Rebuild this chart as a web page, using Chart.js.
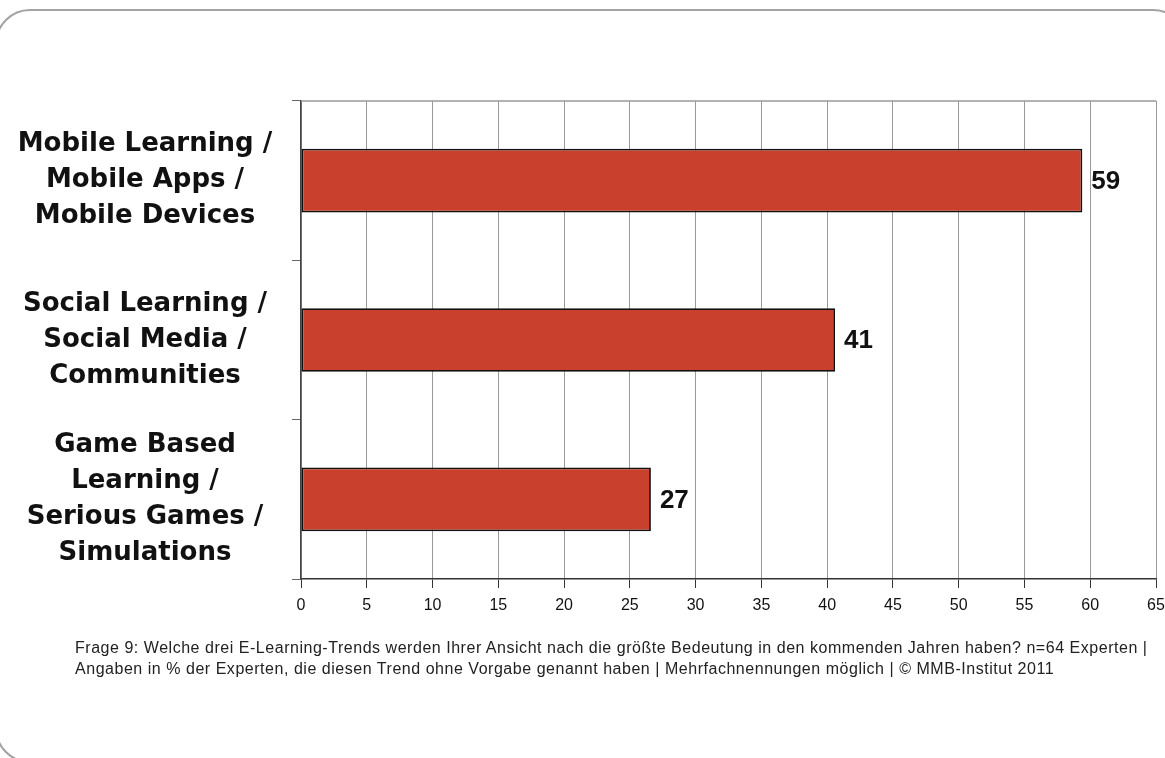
<!DOCTYPE html>
<html>
<head>
<meta charset="utf-8">
<script src="https://cdn.jsdelivr.net/npm/chart.js@4"></script>
<style>
  html, body { margin: 0; padding: 0; background: #fff; }
  #wrap { position: relative; width: 1165px; height: 758px; overflow: hidden; }
  #frame { position: absolute; left: -5px; top: 9px; width: 1193px; height: 754px;
           border: 2px solid #a3a3a3; border-radius: 35px; box-sizing: border-box; }
  #c { position: absolute; left: 0; top: 0; }
  #note { position: absolute; left: 75px; top: 637px; font-family: "Liberation Sans", Arial, sans-serif;
          font-size: 16px; letter-spacing: 0.53px; line-height: 21px; color: #222; white-space: nowrap; }
</style>
</head>
<body>
<div id="wrap">
  <div id="frame"></div>
  <canvas id="c" width="1165" height="758"></canvas>
  <div id="note">Frage 9: Welche drei E-Learning-Trends werden Ihrer Ansicht nach die größte Bedeutung in den kommenden Jahren haben? n=64 Experten |<br>Angaben in % der Experten, die diesen Trend ohne Vorgabe genannt haben | Mehrfachnennungen möglich | © MMB-Institut 2011</div>
</div>
<script>
const categories = [
  ["Mobile Learning /", "Mobile Apps /", "Mobile Devices"],
  ["Social Learning /", "Social Media /", "Communities"],
  ["Game Based", "Learning /", "Serious Games /", "Simulations"]
];
const values = [59.4, 40.6, 26.6];
const valueLabels = ["59", "41", "27"];
const xTicks = [0, 5, 10, 15, 20, 25, 30, 35, 40, 45, 50, 55, 60, 65];

const labelFontSize = 26;
const labelFamily = "'DejaVu Sans', sans-serif";
const mctx = document.createElement('canvas').getContext('2d');
mctx.font = `bold ${labelFontSize}px ${labelFamily}`;
let widest = 0;
categories.forEach(c => c.forEach(l => { widest = Math.max(widest, mctx.measureText(l).width); }));
const axisLeft = 301, tickLen = 9, labelCenter = 145;
const yPad = axisLeft - tickLen - labelCenter - widest / 2;

const valueLabelPlugin = {
  id: 'valueLabels',
  afterDatasetsDraw(chart) {
    const ctx = chart.ctx;
    const meta = chart.getDatasetMeta(0);
    ctx.save();
    ctx.font = "bold 26px 'Liberation Sans', Arial, sans-serif";
    ctx.fillStyle = '#111';
    ctx.textAlign = 'left';
    ctx.textBaseline = 'middle';
    meta.data.forEach((el, i) => {
      ctx.fillText(valueLabels[i], el.x + 9, el.y + 1);
    });
    ctx.restore();
  }
};
const topLinePlugin = {
  id: 'topLine',
  afterDraw(chart) {
    const {ctx, chartArea} = chart;
    ctx.save();
    ctx.strokeStyle = '#999';
    ctx.lineWidth = 1.5;
    ctx.beginPath();
    ctx.moveTo(chartArea.left, chartArea.top);
    ctx.lineTo(chartArea.right, chartArea.top);
    ctx.stroke();
    ctx.restore();
  }
};

new Chart(document.getElementById('c'), {
  type: 'bar',
  data: {
    labels: categories,
    datasets: [{
      data: values,
      backgroundColor: '#C9412C',
      borderColor: '#111',
      borderWidth: 1.8,
      borderSkipped: false,
      barPercentage: 0.4,
      categoryPercentage: 1
    }]
  },
  options: {
    indexAxis: 'y',
    responsive: false,
    animation: false,
    layout: { padding: { left: 0, top: 101, right: 9, bottom: 139 } },
    plugins: { legend: { display: false }, tooltip: { enabled: false } },
    scales: {
      x: {
        min: 0, max: 65,
        afterBuildTicks(scale) { scale.ticks = xTicks.map(v => ({ value: v })); },
        afterFit(scale) { scale.height = 40; scale.paddingLeft = 0; scale.paddingRight = 0; },
        grid: { color: '#999', lineWidth: 1, tickLength: 9, tickColor: '#333' },
        border: { color: '#333', width: 1.5 },
        ticks: { color: '#111', padding: 8, font: { family: "'Liberation Sans', Arial, sans-serif", size: 16 } }
      },
      y: {
        afterFit(scale) { scale.width = axisLeft; scale.paddingTop = 0; scale.paddingBottom = 0; },
        grid: { offset: true, drawOnChartArea: false, tickLength: tickLen, color: '#666' },
        border: { color: '#444', width: 1.5 },
        ticks: {
          crossAlign: 'center',
          padding: yPad,
          color: '#111',
          font: { family: labelFamily, size: labelFontSize, weight: 'bold', lineHeight: 36 / labelFontSize }
        }
      }
    }
  },
  plugins: [valueLabelPlugin, topLinePlugin]
});
</script>
</body>
</html>
